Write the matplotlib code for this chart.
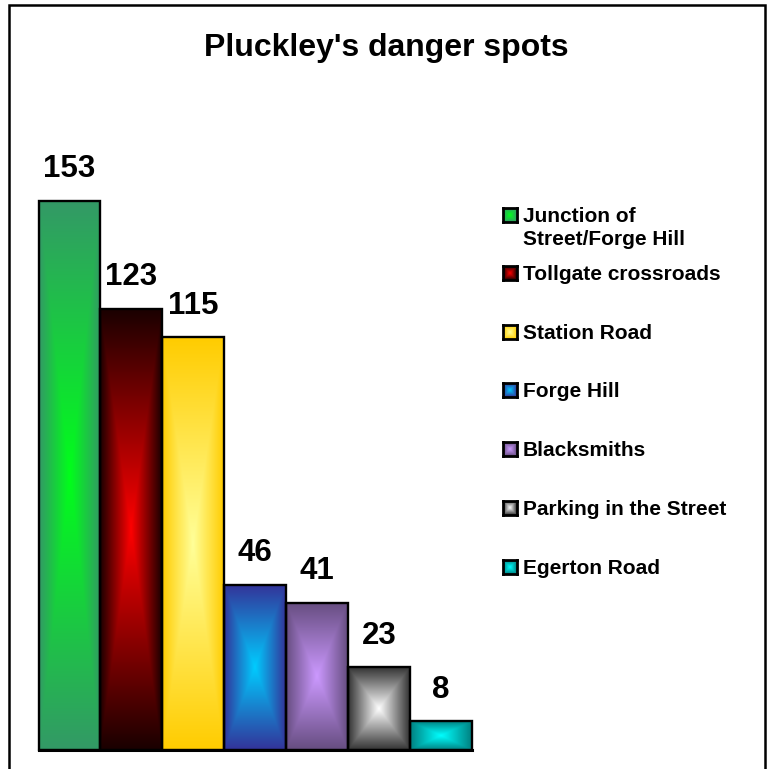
import numpy as np
import matplotlib
matplotlib.use("Agg")
import matplotlib.pyplot as plt
from matplotlib.colors import to_rgb
from matplotlib.patches import Rectangle

plt.rcParams['font.family'] = ['Liberation Sans', 'DejaVu Sans']

# data
spots = ["Junction of\nStreet/Forge Hill", "Tollgate crossroads", "Station Road",
         "Forge Hill", "Blacksmiths", "Parking in the Street", "Egerton Road"]
counts = [153, 123, 115, 46, 41, 23, 8]

# gradient colours: (edge, centre)
edge_cols = ["#339966", "#1a0000", "#ffcc00", "#333399", "#664d80", "#333333", "#008080"]
centre_cols = ["#00ff1a", "#ff0000", "#ffff99", "#00ccff", "#cc99ff", "#ffffff", "#00ffff"]


def rect_gradient(edge, centre, n=200):
    # "from centre" rectangular fill
    u = np.linspace(-1, 1, n)
    xx, yy = np.meshgrid(u, u)
    t = np.maximum(np.abs(xx), np.abs(yy))[..., None]
    e = np.array(to_rgb(edge))
    c = np.array(to_rgb(centre))
    return c + (e - c) * t


W, H = 767, 769
fig = plt.figure(figsize=(W / 100, H / 100), dpi=100)

# outer border (left, top, right only)
fig.patches.append(Rectangle((8.5 / W, -0.05), (765 - 8.5) / W, 1.05 - 4.5 / H,
                             transform=fig.transFigure, fill=False,
                             edgecolor="black", linewidth=1.8))

fig.text(386 / W, 1 - 48 / H, "Pluckley's danger spots", ha="center", va="center",
         fontsize=23, fontweight="bold")

ymax = 170
ax = fig.add_axes([38.5 / W, 19 / H, (472 - 38.5) / W, (ymax * 3.588) / H])
x = np.arange(len(counts))
bars = ax.bar(x, counts, width=1.0, facecolor="none", edgecolor="black",
              linewidth=1.7, zorder=3, clip_on=False)
for b, e, c, v in zip(bars, edge_cols, centre_cols, counts):
    bx, bw, bh = b.get_x(), b.get_width(), b.get_height()
    ax.imshow(rect_gradient(e, c), extent=[bx, bx + bw, 0, bh], aspect="auto",
              interpolation="bilinear", zorder=2)
    ax.annotate(str(v), (bx + bw / 2, bh), xytext=(0, 17), textcoords="offset points",
                ha="center", va="baseline", fontsize=22.5, fontweight="bold")
ax.axhline(0, color="black", linewidth=2.2, zorder=4, clip_on=False)

ax.set_xlim(-0.5, len(counts) - 0.5)
ax.set_ylim(0, ymax)
ax.axis("off")

# legend, drawn by hand
row_y = [215, 273, 332, 390, 449, 508, 567]
for lab, e, c, ry in zip(spots, edge_cols, centre_cols, row_y):
    sq = fig.add_axes([503 / W, 1 - (ry + 7) / H, 14 / W, 14 / H])
    sq.imshow(rect_gradient(e, c, 40), extent=[0, 1, 0, 1], aspect="auto")
    sq.set_xticks([])
    sq.set_yticks([])
    for s in sq.spines.values():
        s.set_linewidth(2)
    fig.text(523 / W, 1 - (ry - 8) / H, lab, ha="left", va="top",
             fontsize=15, fontweight="bold", linespacing=1.25)

fig.savefig("out.png", dpi=100)
